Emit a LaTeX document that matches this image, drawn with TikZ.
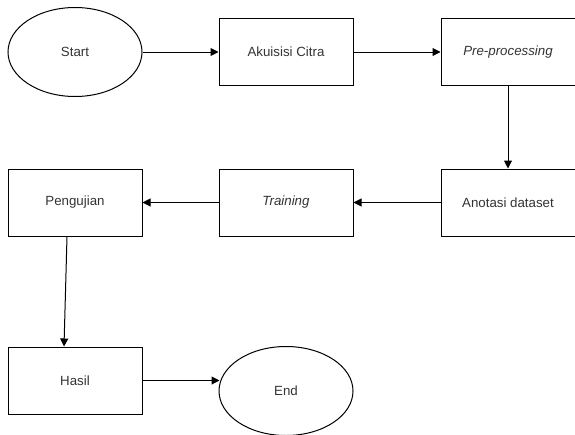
\documentclass[tikz,border=0pt]{standalone}
\usepackage{fontspec}
\setmainfont{Liberation Sans}
\usetikzlibrary{shapes.geometric,arrows.meta}
\definecolor{txt}{HTML}{333333}
\begin{document}
\begin{tikzpicture}[x=1pt,y=-1pt,
  box/.style={draw=black,line width=1pt,minimum width=134pt,minimum height=67pt,inner sep=0pt,font=\fontsize{13.3}{15}\selectfont,text=txt},
  oval/.style={draw=black,line width=1pt,ellipse,minimum width=134pt,minimum height=89pt,inner sep=0pt,font=\fontsize{13.3}{15}\selectfont,text=txt},
  arr/.style={line width=1pt,-{Triangle[length=8pt,width=8pt]}}]
\useasboundingbox (0,0) rectangle (575,434);
\node[oval] (start) at (75,52) {Start};
\node[box] (akui) at (286,52) {Akuisisi Citra};
\node[box] (pre) at (508,52) {\itshape Pre-processing};
\node[box] (anot) at (508,202.5) {Anotasi dataset};
\node[box] (train) at (286,202.5) {\itshape Training};
\node[box] (uji) at (75,202.5) {Pengujian};
\node[box] (hasil) at (75,380.5) {Hasil};
\node[oval] (end) at (286,391) {End};
\draw[arr] (start.east) -- (akui.west);
\draw[arr] (akui.east) -- (pre.west);
\draw[arr] (pre.south) -- (anot.north);
\draw[arr] (anot.west) -- (train.east);
\draw[arr] (train.west) -- (uji.east);
\draw[arr] ([xshift=-8pt]uji.south) -- ([xshift=-11pt]hasil.north);
\coordinate (endin) at (219.5,380.5);
\draw[arr] (hasil.east) -- (endin);
\end{tikzpicture}
\end{document}
